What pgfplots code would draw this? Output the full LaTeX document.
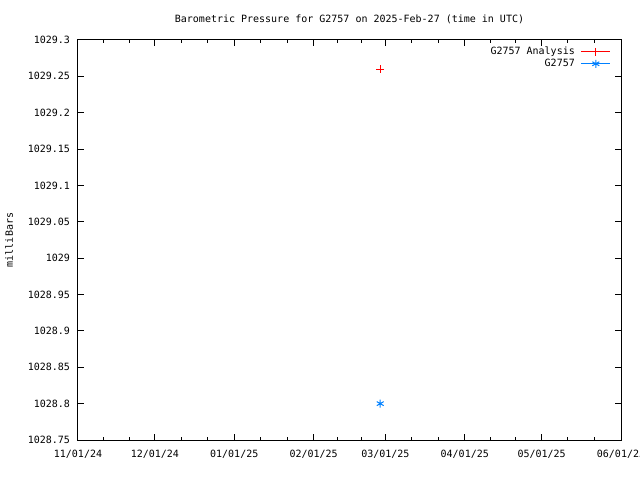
\documentclass[border=0pt]{standalone}
\usepackage{fontspec}
\setmainfont{DejaVu Sans Mono}
\usepackage{pgfplots}
\pgfplotsset{compat=1.18}
\definecolor{gpred}{RGB}{255,0,0}
\definecolor{gpblue}{RGB}{0,128,255}
\newcommand{\gpfont}{\fontsize{10bp}{12bp}\selectfont}
\begin{document}
\begin{tikzpicture}
\useasboundingbox (-78bp,-40bp) rectangle (562bp,440bp);
\begin{axis}[
  at={(0,0)}, anchor=south west,
  scale only axis, width=543bp, height=400bp,
  xmin=0, xmax=212, ymin=1028.75, ymax=1029.3,
  axis line style={line width=1bp},
  every tick/.style={black, line width=1bp},
  tick align=inside,
  major tick length=6bp, minor tick length=3bp,
  xtick={0,30,61,92,120,151,181,212},
  xticklabels={11/01/24,12/01/24,01/01/25,02/01/25,03/01/25,04/01/25,05/01/25,06/01/25},
  minor xtick={10,20,40.3,50.7,71.3,81.7,101.3,110.7,130.3,140.7,161,171,191.3,201.7},
  ytick={1028.75,1028.8,1028.85,1028.9,1028.95,1029,1029.05,1029.1,1029.15,1029.2,1029.25,1029.3},
  yticklabels={1028.75,1028.8,1028.85,1028.9,1028.95,1029,1029.05,1029.1,1029.15,1029.2,1029.25,1029.3},
  /pgf/number format/assume math mode=true,
  ticklabel style={font=\gpfont},
  xticklabel style={yshift=-6.5bp},
  yticklabel style={xshift=-4.5bp},
  title={Barometric Pressure for G2757 on 2025-Feb-27 (time in UTC)},
  title style={font=\gpfont, at={(axis description cs:0.5,1)}, anchor=center, yshift=15bp},
  ylabel={milliBars},
  ylabel style={font=\gpfont, at={(axis description cs:-0.1270,0.5)}, anchor=center},
  legend style={draw=none, fill=none, font=\gpfont, at={(axis description cs:1,1)}, anchor=north east, xshift=-7bp, yshift=-3bp, row sep=-1bp,
    /tikz/every odd column/.append style={column sep=4bp}},
  legend cell align=right,
  legend plot pos=right,
]
\addplot[color=gpred, line width=1bp, mark=+, mark size=4bp,
  legend image code/.code={\draw[gpred, line width=1bp, mark=+, mark size=4bp, mark repeat=2, mark phase=2] plot coordinates {(0bp,0bp)(14.5bp,0bp)(29bp,0bp)};}] coordinates {(118,1029.26)};
\addlegendentry{G2757 Analysis}
\addplot[color=gpblue, line width=1bp, mark=asterisk, mark size=4bp,
  legend image code/.code={\draw[gpblue, line width=1bp, mark=asterisk, mark size=4bp, mark repeat=2, mark phase=2] plot coordinates {(0bp,0bp)(14.5bp,0bp)(29bp,0bp)};}] coordinates {(118,1028.80)};
\addlegendentry{G2757}
\end{axis}
\end{tikzpicture}
\end{document}
